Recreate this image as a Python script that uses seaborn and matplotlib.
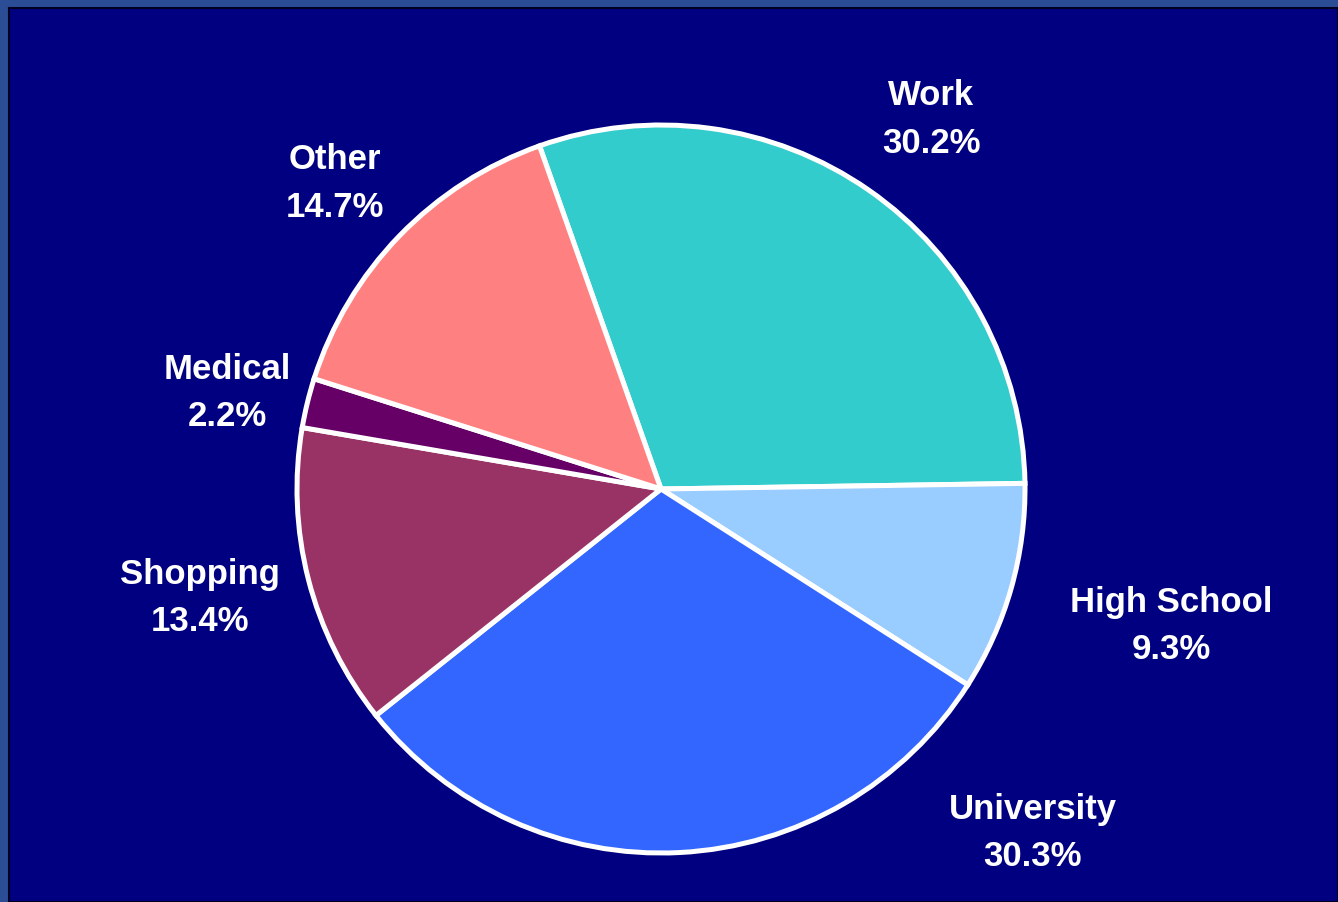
import numpy as np
import matplotlib
matplotlib.use("Agg")
import matplotlib.pyplot as plt
import seaborn as sns

# Trip purposes and their shares (percent), clockwise from the top
purposes = ["Work", "High School", "University", "Shopping", "Medical", "Other"]
shares = [30.2, 9.3, 30.3, 13.4, 2.2, 14.7]
slice_colors = ["#33CCCC", "#99CCFF", "#3366FF", "#993366", "#660066", "#FF8080"]

sns.set_theme(style="white")
plt.rcParams["font.family"] = ["Liberation Sans", "DejaVu Sans"]

W, H = 1338, 903
fig = plt.figure(figsize=(W / 100, H / 100), dpi=100)
fig.patch.set_facecolor("#2b4d95")

# navy slide panel with a thin dark border
bg = fig.add_axes([9 / W, 0, 1 - 9 / W, 1 - 9 / H], zorder=-5)
bg.set_facecolor("#000080")
bg.set_xticks([])
bg.set_yticks([])
for s in bg.spines.values():
    s.set_color("#000022")
    s.set_linewidth(1.5)

cx, cy, R = 661, H - 490, 364
L = 1.2
side = 2 * L * R
ax = fig.add_axes([(cx - side / 2) / W, (cy - side / 2) / H, side / W, side / H], zorder=1)
ax.set_facecolor("none")
ax.axis("off")

palette = sns.color_palette(slice_colors)
wedges, _ = ax.pie(shares, colors=palette, startangle=109.5, counterclock=False,
                   radius=1.0,
                   wedgeprops=dict(edgecolor="white", linewidth=3.6, antialiased=True))
ax.set_xlim(-L, L)
ax.set_ylim(-L, L)
ax.set_aspect("equal")

# label placement: radial distance and optional angle override per slice
label_dist = {"Work": 1.26, "High School": 1.45, "University": 1.39,
              "Shopping": 1.30, "Medical": 1.22, "Other": 1.23}
label_angle = {"Work": 53.9, "University": -42.7, "Shopping": 193.2,
               "Medical": 167.4, "Other": 136.8, "High School": -14.9}

for w, name, val in zip(wedges, purposes, shares):
    theta = label_angle.get(name, 0.5 * (w.theta1 + w.theta2))
    d = label_dist[name]
    x = d * np.cos(np.deg2rad(theta))
    y = d * np.sin(np.deg2rad(theta))
    ax.text(x, y, f"{name}\n{val:.1f}%", ha="center", va="center", color="white",
            fontsize=25, fontweight="bold", linespacing=1.55)

fig.savefig("out.png", dpi=100, facecolor=fig.get_facecolor())
